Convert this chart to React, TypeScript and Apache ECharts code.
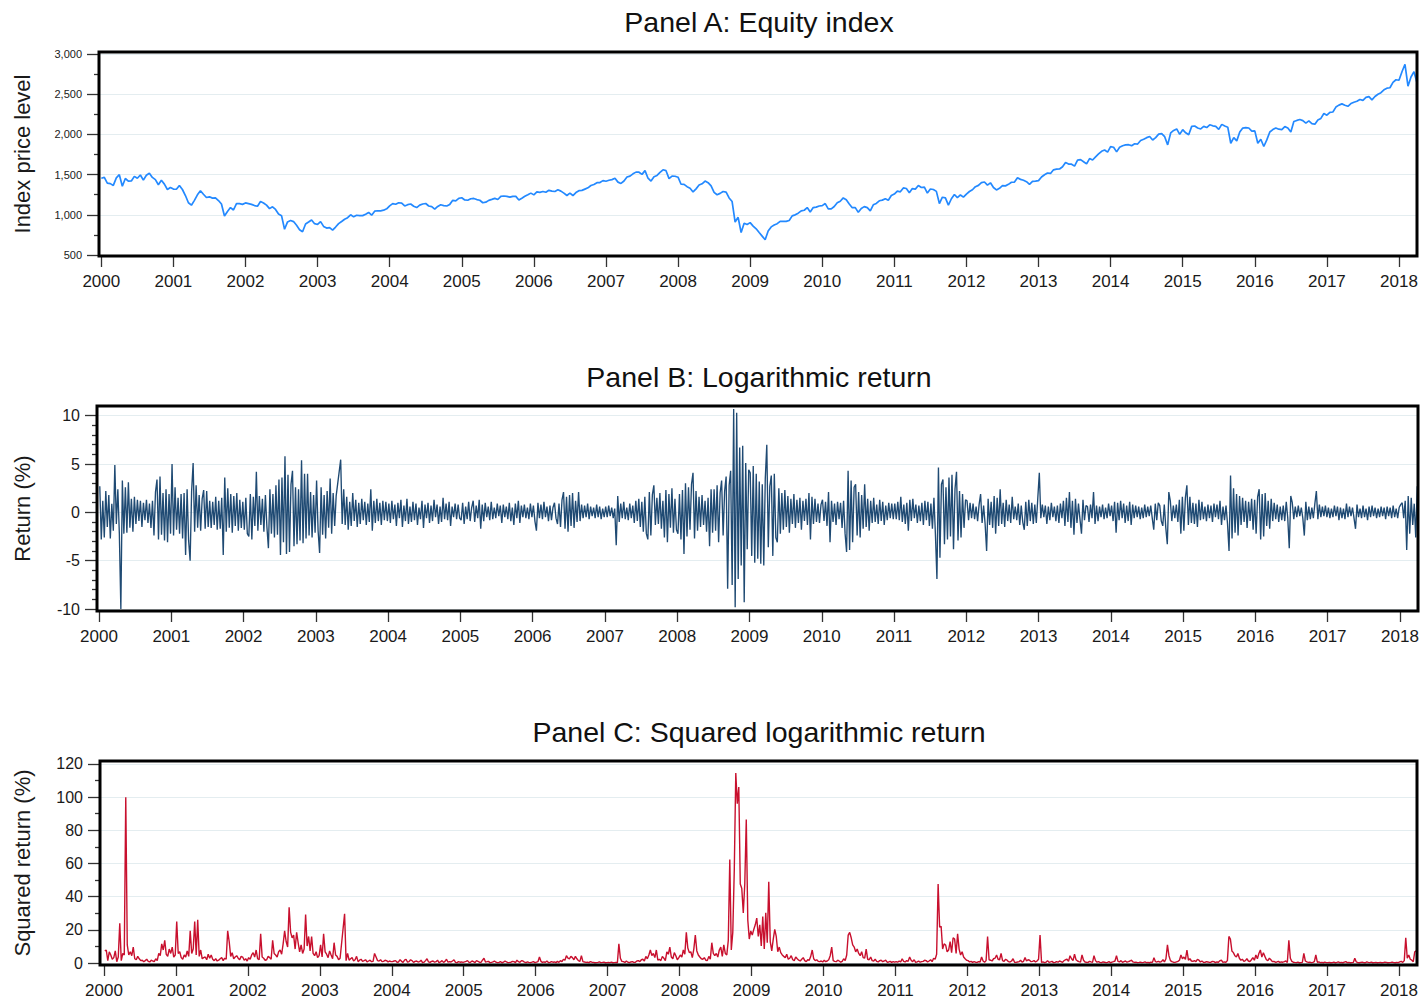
import React, { useEffect, useRef } from "react";
import * as echarts from "echarts";

// Year ticks shared by the three panels
const yearTicks = [2000, 2001, 2002, 2003, 2004, 2005, 2006, 2007, 2008, 2009, 2010, 2011, 2012, 2013, 2014, 2015, 2016, 2017, 2018];

// Y-axis tick values
const priceTicks = [500, 1000, 1500, 2000, 2500, 3000];
const priceMinorTicks = [750, 1250, 1750, 2250, 2750];
const returnTicks = [-10, -5, 0, 5, 10];
const returnMinorTicks = [-9, -8, -7, -6, -4, -3, -2, -1, 1, 2, 3, 4, 6, 7, 8, 9];
const squaredTicks = [0, 20, 40, 60, 80, 100, 120];
const squaredMinorTicks = [10, 30, 50, 70, 90, 110];

// Equity index level: opening value, then mid-month and month-end levels per year
const indexStart = 1455;
const index2000 = [1465, 1394, 1388, 1366, 1460, 1499, 1356, 1452, 1420, 1421, 1478, 1455, 1495, 1431, 1492, 1518, 1465, 1437, 1374, 1429, 1382, 1315, 1340, 1320];
const index2001 = [1318, 1366, 1315, 1240, 1150, 1120, 1180, 1249, 1300, 1256, 1215, 1224, 1208, 1211, 1178, 1134, 985, 1041, 1090, 1060, 1140, 1139, 1130, 1148];
const index2002 = [1140, 1130, 1115, 1107, 1165, 1147, 1120, 1077, 1100, 1067, 1010, 990, 820, 912, 930, 916, 870, 815, 790, 886, 910, 936, 890, 880];
const index2003 = [915, 856, 835, 841, 810, 848, 890, 917, 945, 964, 1000, 975, 995, 990, 990, 1008, 1030, 996, 1045, 1051, 1050, 1058, 1075, 1112];
const index2004 = [1140, 1131, 1150, 1145, 1110, 1126, 1135, 1107, 1090, 1121, 1135, 1141, 1110, 1102, 1070, 1104, 1125, 1115, 1110, 1130, 1180, 1174, 1205, 1212];
const index2005 = [1185, 1181, 1200, 1204, 1190, 1181, 1150, 1157, 1180, 1192, 1205, 1191, 1230, 1234, 1230, 1220, 1230, 1229, 1185, 1207, 1230, 1249, 1270, 1248];
const index2006 = [1285, 1280, 1290, 1281, 1305, 1295, 1290, 1311, 1295, 1270, 1240, 1270, 1240, 1277, 1300, 1304, 1320, 1336, 1365, 1378, 1400, 1401, 1425, 1418];
const index2007 = [1430, 1438, 1455, 1407, 1390, 1421, 1470, 1482, 1510, 1531, 1530, 1503, 1550, 1455, 1420, 1474, 1490, 1527, 1560, 1549, 1450, 1481, 1480, 1468];
const index2008 = [1380, 1379, 1350, 1331, 1285, 1323, 1370, 1386, 1420, 1400, 1360, 1280, 1250, 1267, 1290, 1283, 1210, 1165, 910, 969, 780, 896, 880, 903];
const index2009 = [860, 826, 780, 735, 690, 798, 850, 873, 890, 919, 920, 919, 930, 987, 1000, 1021, 1050, 1057, 1090, 1036, 1090, 1096, 1110, 1115];
const index2010 = [1140, 1074, 1075, 1104, 1150, 1169, 1210, 1187, 1135, 1089, 1090, 1031, 1080, 1102, 1090, 1049, 1125, 1141, 1175, 1183, 1200, 1181, 1240, 1258];
const index2011 = [1295, 1286, 1335, 1327, 1275, 1326, 1320, 1364, 1340, 1345, 1270, 1321, 1315, 1292, 1140, 1219, 1210, 1120, 1200, 1253, 1215, 1247, 1220, 1258];
const index2012 = [1290, 1312, 1350, 1366, 1400, 1408, 1370, 1398, 1340, 1310, 1330, 1362, 1360, 1379, 1405, 1407, 1460, 1441, 1430, 1412, 1380, 1416, 1420, 1426];
const index2013 = [1470, 1498, 1520, 1515, 1560, 1569, 1570, 1598, 1650, 1631, 1630, 1606, 1680, 1686, 1660, 1633, 1700, 1682, 1720, 1757, 1790, 1806, 1780, 1848];
const index2014 = [1840, 1783, 1840, 1859, 1870, 1872, 1860, 1884, 1880, 1924, 1940, 1960, 1975, 1931, 1960, 2003, 2010, 1972, 1870, 2018, 2050, 2068, 2000, 2059];
const index2015 = [2020, 1995, 2100, 2105, 2080, 2068, 2100, 2086, 2120, 2107, 2100, 2063, 2125, 2104, 2090, 1890, 1960, 1920, 2030, 2079, 2085, 2080, 2040, 2044];
const index2016 = [1890, 1940, 1850, 1932, 2030, 2060, 2080, 2065, 2060, 2097, 2080, 2030, 2160, 2174, 2185, 2171, 2140, 2168, 2135, 2126, 2180, 2199, 2260, 2239];
const index2017 = [2275, 2279, 2340, 2364, 2380, 2363, 2350, 2384, 2400, 2412, 2435, 2423, 2460, 2470, 2430, 2472, 2500, 2519, 2555, 2575, 2580, 2648, 2680, 2674];
const index2018 = [2780, 2872, 2600, 2714, 2780, 2641];

// Logarithmic return (%), roughly weekly readings per year; null = missing observation
const returns2000 = [
  2.7, -2.8, 1.2, -2.6, 2.2, -1.5, 1.8, -2.7,
  0.9, -1.9, 4.9, -1.2, 2.4, -2.2, -10.0, 3.3,
  -2.2, 2.6, -2.1, 3.1, -1.6, 1.4, -2.0, 1.6,
  -1.2, 1.3, -0.9, 1.2, -1.5, 1.0, -0.8, 1.3,
  -1.1, 0.9, -1.6, 1.2, -2.4, 2.1, 3.4, -2.8,
  3.7, -2.3, 2.0, -2.9, 2.4, -3.1, 1.9, -2.2,
];
const returns2001 = [
  5.0, -2.4, 2.6, -1.8, 1.5, -2.2, 1.9, -2.7,
  2.0, -4.4, 2.4, -2.9, -5.0, 2.2, 5.1, -2.0,
  2.8, -1.6, 1.8, -1.9, 1.4, 2.3, -1.7, 2.2,
  -1.5, 1.2, -1.6, 1.1, -1.3, 1.6, -1.8, 1.2,
  -1.7, 1.5, -4.4, 3.6, -2.0, 2.5, -1.6, 1.9,
  -2.1, 1.7, -1.4, 2.0, -1.9, 1.3, -1.6, 1.1,
];
const returns2002 = [
  -1.8, 1.5, -2.2, -2.5, 1.9, -2.8, 1.6, -1.4,
  4.2, -1.9, 1.7, -1.3, 1.4, -2.0, 1.8, -1.5,
  -3.7, 2.4, -2.2, 1.9, -2.6, 2.8, -2.3, 3.4,
  -4.4, 3.6, -3.1, 5.8, -4.3, 3.9, -4.1, 2.9,
  4.3, -3.5, 2.6, -3.3, 2.4, -2.9, 5.4, -3.2,
  4.0, -2.7, 4.0, -2.4, 2.1, -2.6, 1.8, -2.1,
];
const returns2003 = [
  3.3, -1.9, -4.2, 2.6, -2.3, 1.8, -2.7, 2.2,
  -1.6, 3.5, -2.2, 2.0, -1.4, 1.7, null, null,
  5.45, -1.2, 2.4, -1.3, 1.6, -1.8, 1.1, -1.4,
  2.0, -0.9, 1.3, -1.5, 1.0, -1.2, 1.4, -0.8,
  1.1, -1.3, 0.9, -1.0, 2.4, -1.9, 1.2, -1.1,
  1.4, -0.9, 1.0, -1.3, 1.2, -0.8, 1.1, -0.9,
];
const returns2004 = [
  0.9, -1.1, 1.2, -0.7, 0.8, -1.4, 1.0, -0.6,
  1.3, -1.5, 0.7, -0.9, 1.4, -1.2, 0.6, -1.0,
  1.1, -0.8, 0.9, -1.3, 0.5, -0.7, 1.2, -1.6,
  0.8, -0.6, 1.0, -1.1, 0.7, -0.9, 1.3, -0.5,
  0.8, -1.2, 0.6, -1.0, 1.5, -0.7, 0.9, -0.8,
  1.1, -1.4, 0.6, -0.5, 0.9, -0.7, 0.8, -0.6,
];
const returns2005 = [
  -0.8, 1.0, -1.2, 0.6, -0.7, 1.1, -0.9, 0.5,
  1.2, -1.0, 0.7, -0.6, 1.3, -1.7, 0.8, -0.9,
  1.0, -0.5, 0.6, -0.8, 1.1, -0.7, 0.5, -0.6,
  0.9, -0.4, 0.7, -1.1, 0.8, -0.5, 0.6, -0.7,
  1.0, -0.9, 0.5, -1.3, 0.9, -0.6, 1.2, -1.1,
  0.7, -0.5, 0.8, -0.6, 0.5, -0.7, 0.9, -0.5,
];
const returns2006 = [
  0.7, -0.9, -1.9, 1.0, -0.6, 0.8, -0.7, 1.1,
  -0.5, 0.6, -0.9, 0.7, -0.8, 0.5, 1.0, -0.6,
  -1.2, 0.9, -1.5, 1.3, 2.1, -1.7, 1.6, -2.0,
  1.8, -1.4, 2.0, -1.6, 1.2, -1.0, 2.1, -0.9,
  0.8, -0.6, 0.7, -0.5, 0.9, -0.7, 0.6, -0.4,
  0.5, -0.6, 0.8, -0.5, 0.6, -0.7, 0.4, -0.5,
];
const returns2007 = [
  0.6, -0.5, 0.7, -0.4, 0.5, -0.6, 0.4, -3.4,
  1.7, -1.0, 0.9, -0.6, 1.1, -0.7, 0.5, -0.8,
  0.9, -0.6, 0.7, -1.1, 1.2, -0.9, 1.4, -1.5,
  1.1, -2.0, 1.6, -2.2, -2.8, 2.1, -2.4, 1.8,
  2.8, -1.3, 1.5, -1.2, 2.0, -1.7, 1.2, -2.6,
  2.3, -3.1, 1.9, -1.6, 2.5, -2.1, 1.4, -1.8,
];
const returns2008 = [
  -2.2, 1.9, -2.8, 2.3, -4.3, 3.0, -2.5, 2.6,
  -1.8, 2.9, 4.1, -2.7, 2.2, -1.9, 1.6, -1.5,
  1.8, -1.3, 1.2, -2.0, 1.5, -3.5, 2.4, -2.1,
  2.4, -1.9, 2.8, -3.1, 2.0, 3.3, -2.4, 2.2,
  3.7, -7.9, 2.8, 4.3, -7.5, 10.7, -9.8, 10.3,
  -6.9, 6.7, -5.5, 6.9, -9.3, 5.1, -3.8, 4.4,
];
const returns2009 = [
  4.1, -4.5, 4.8, -5.2, 4.0, -4.8, 3.2, -5.3,
  2.9, -5.5, 3.5, 7.0, -3.6, 2.7, 3.8, -4.5,
  4.0, -2.6, -3.1, 2.5, -2.2, 2.0, -1.8, 2.3,
  -1.5, 1.7, -2.1, 1.4, -1.2, 1.9, -1.6, 1.3,
  -1.1, 1.5, -1.8, 1.2, -0.9, 1.4, -1.3, 2.0,
  -2.8, 1.6, -1.2, 1.4, -1.0, 0.9, -1.1, 0.8,
];
const returns2010 = [
  1.3, -0.9, 1.1, -1.4, 2.1, -3.1, 1.2, -1.0,
  0.9, -1.3, 1.1, -0.7, 1.0, -1.6, 1.2, -2.2,
  -4.1, 4.3, -3.9, 3.3, -3.1, 2.6, 2.9, -2.4,
  2.1, -2.6, 1.8, -1.7, 2.9, -1.5, 1.4, -1.9,
  1.2, -1.1, 1.5, -1.0, 0.8, -1.2, 1.3, -0.9,
  1.1, -1.3, 0.7, -0.8, 1.0, -0.6, 0.9, -0.7,
];
const returns2011 = [
  0.9, -0.7, 1.1, -0.8, 1.6, -1.0, 0.8, -1.2,
  1.0, -1.9, 1.3, -0.9, 1.4, -0.6, 0.8, -1.1,
  0.7, -0.9, 1.0, -1.3, 1.2, -0.8, 1.1, -1.4,
  0.9, -1.7, 1.5, -2.3, -6.9, 4.65, -4.7, 2.9,
  3.4, -3.3, 2.6, -2.8, 3.6, -2.5, 3.9, -3.8,
  2.4, 4.2, -2.9, 2.2, -2.6, 1.9, -1.6, 1.3,
];
const returns2012 = [
  1.2, -0.8, 1.0, -0.6, 0.9, -0.7, 0.6, -0.9,
  0.8, 1.9, -1.1, 0.7, -1.2, -4.0, 1.4, -1.3,
  1.1, -1.6, 1.7, -2.2, 1.5, -1.4, 2.4, -1.2,
  1.0, -1.5, 1.3, -0.9, 0.8, -1.1, 1.6, -0.7,
  0.6, -0.8, 0.9, -1.3, 0.7, -1.0, -1.8, 1.1,
  -1.4, 1.3, -0.9, 1.0, -1.2, 0.8, -1.1, 1.5,
];
const returns2013 = [
  4.1, -0.6, 0.8, -0.5, 0.7, -1.2, 0.6, -0.8,
  1.0, -0.5, 0.6, -0.9, 0.7, -1.1, 0.9, -0.6,
  1.2, -1.4, 1.5, -1.0, 2.1, -1.6, 1.2, -2.3,
  1.4, -1.1, 0.9, -0.7, -2.2, 1.3, -0.8, 0.7,
  0.6, -1.0, 0.8, -0.6, 2.1, -1.2, 0.7, -0.9,
  0.6, -0.5, 0.8, -0.7, 0.5, -0.6, 0.9, -0.4,
];
const returns2014 = [
  0.7, -0.9, 1.1, -2.1, 1.0, -0.8, 1.2, -0.6,
  0.9, -1.1, 0.7, -0.9, 1.1, -1.3, 0.8, -0.6,
  0.7, -0.5, 0.6, -0.7, 0.5, -0.6, 0.8, -0.5,
  0.6, -0.4, 0.7, -0.6, -1.8, 0.9, -0.8, 1.0,
  0.7, -0.9, -1.4, 0.8, -1.6, -3.3, 2.1, 1.2,
  -0.9, 0.7, -0.6, 0.8, -1.0, 1.3, -2.2, 1.6,
];
const returns2015 = [
  -1.9, 1.5, 2.8, -1.3, 1.6, -1.1, 1.0, -1.2,
  0.9, -1.5, 1.3, -0.8, 1.1, -0.7, 0.6, -0.9,
  0.8, -0.6, 0.7, -1.0, 0.9, -0.5, 0.8, -0.7,
  1.2, -1.3, 0.6, -0.8, 0.7, -1.2, -4.0, 3.8,
  -2.7, 2.5, -2.1, 1.9, -2.4, 1.7, -1.3, 1.5,
  -1.0, 1.2, -1.6, 1.1, -0.9, 1.4, -1.8, 1.3,
];
const returns2016 = [
  -2.2, 1.6, 2.4, -2.8, 1.9, -2.5, 2.0, -1.4,
  1.2, -1.7, 1.4, -0.9, 1.0, -0.7, 0.8, -1.0,
  0.6, -0.8, 0.7, -0.9, 1.1, -0.6, -3.7, 1.7,
  1.0, -0.7, 0.6, -0.5, 0.7, -0.4, 0.5, -0.6,
  -2.4, 1.1, -0.8, 0.6, -0.7, 0.5, -0.6, 0.9,
  2.2, -0.7, 0.8, -0.5, 0.6, -0.4, 0.7, -0.5,
];
const returns2017 = [
  0.5, -0.6, 0.4, -0.5, 0.7, -0.4, 0.6, -0.8,
  0.5, -0.6, 0.4, -0.7, 0.9, -0.5, 0.6, -0.4,
  0.5, -0.6, -1.7, 0.8, -0.5, 0.4, -0.6, 0.7,
  -0.5, 0.4, -0.8, 0.6, -0.5, 0.7, -0.4, 0.5,
  -0.6, 0.4, -0.5, 0.6, -0.4, 0.5, -0.7, 0.6,
  -0.4, 0.5, -0.6, 0.7, -0.5, 0.4, -0.6, 0.5,
];
const returns2018 = [0.8, 1.0, -0.6, 1.2, -3.9, 1.7, -2.2, 1.5, -1.3, 0.9, -2.6, 2.7];

const indexByYear = [
  index2000, index2001, index2002, index2003, index2004, index2005, index2006,
  index2007, index2008, index2009, index2010, index2011, index2012, index2013,
  index2014, index2015, index2016, index2017, index2018,
];
const returnsByYear: (number | null)[][] = [
  returns2000, returns2001, returns2002, returns2003, returns2004, returns2005, returns2006,
  returns2007, returns2008, returns2009, returns2010, returns2011, returns2012, returns2013,
  returns2014, returns2015, returns2016, returns2017, returns2018,
];

const FIRST_YEAR = 2000;
const LAST_DATE = 2018.25;
const INDEX_STEPS_PER_YEAR = 24;
const RETURN_STEPS_PER_YEAR = 48;

// Decimal-year time stamps for each reading
function indexPoints(): [number, number][] {
  const pts: [number, number][] = [[FIRST_YEAR, indexStart]];
  indexByYear.forEach((vals, i) => {
    vals.forEach((v, k) => pts.push([FIRST_YEAR + i + (k + 1) / INDEX_STEPS_PER_YEAR, v]));
  });
  return pts;
}

function returnPoints(): [number, number | null][] {
  const pts: [number, number | null][] = [];
  returnsByYear.forEach((vals, i) => {
    vals.forEach((v, k) => pts.push([FIRST_YEAR + i + (k + 0.5) / RETURN_STEPS_PER_YEAR, v]));
  });
  return pts;
}

const FONT = "'Liberation Sans', Arial, Helvetica, sans-serif";
const TEXT = "#1a1a1a";
const TICK = { color: "#333", width: 1.3 };
const GRIDLINE = "#e4edf0";

function withThousands(v: number): string {
  return String(Math.round(v)).replace(/\B(?=(\d{3})+(?!\d))/g, ",");
}

type PanelSpec = {
  grid: { left: number; right: number; top: number; height: number };
  xMin: number;
  yMin: number;
  yMax: number;
  major: number[];
  minor: number[];
  labelSize: number;
  name: string;
  nameGap: number;
  format: (v: number) => string;
};

function buildOption() {
  const returns = returnPoints();
  const squared = returns.map(([x, r]) => [x, r === null ? null : +(r * r).toFixed(4)]);

  const panels: PanelSpec[] = [
    {
      grid: { left: 99, right: 5, top: 52, height: 204 },
      xMin: 1999.968, yMin: 488, yMax: 3025,
      major: priceTicks, minor: priceMinorTicks, labelSize: 11,
      name: "Index price level", nameGap: 66, format: withThousands,
    },
    {
      grid: { left: 97, right: 4, top: 406, height: 205 },
      xMin: 1999.972, yMin: -10.2, yMax: 11,
      major: returnTicks, minor: returnMinorTicks, labelSize: 16,
      name: "Return (%)", nameGap: 64, format: (v) => String(v),
    },
    {
      grid: { left: 100, right: 5, top: 761, height: 205 },
      xMin: 1999.944, yMin: -1.2, yMax: 121.8,
      major: squaredTicks, minor: squaredMinorTicks, labelSize: 16,
      name: "Squared return (%)", nameGap: 67, format: (v) => String(v),
    },
  ];

  const grids = panels.map((p) => ({
    ...p.grid,
    show: true,
    borderColor: "#000",
    borderWidth: 3,
    backgroundColor: "transparent",
    containLabel: false,
    z: 3,
  }));

  const xAxes = panels.map((p, i) => ({
    type: "value",
    gridIndex: i,
    min: p.xMin,
    max: LAST_DATE,
    axisLine: { show: false, onZero: false },
    axisTick: { show: true, customValues: yearTicks, length: 11, lineStyle: TICK },
    axisLabel: {
      show: true,
      customValues: yearTicks,
      margin: 17,
      fontSize: 17,
      fontFamily: FONT,
      color: TEXT,
      formatter: (v: number) => String(Math.round(v)),
    },
    splitLine: { show: false },
  }));

  const yAxes: any[] = [];
  panels.forEach((p, i) => {
    yAxes.push({
      type: "value",
      gridIndex: i,
      position: "left",
      min: p.yMin,
      max: p.yMax,
      name: p.name,
      nameLocation: "middle",
      nameGap: p.nameGap,
      nameTextStyle: { fontSize: 22, fontFamily: FONT, color: TEXT },
      axisLine: { show: false, onZero: false },
      axisTick: { show: true, customValues: p.major, length: 12, lineStyle: TICK },
      axisLabel: {
        show: true,
        customValues: p.major,
        margin: 17,
        fontSize: p.labelSize,
        fontFamily: FONT,
        color: TEXT,
        formatter: p.format,
      },
      splitLine: { show: true, lineStyle: { color: GRIDLINE, width: 1 } },
    });
    yAxes.push({
      type: "value",
      gridIndex: i,
      position: "left",
      min: p.yMin,
      max: p.yMax,
      axisLine: { show: false, onZero: false },
      axisTick: { show: true, customValues: p.minor, length: 5, lineStyle: TICK },
      axisLabel: { show: false },
      splitLine: { show: false },
    });
  });

  const titleStyle = (text: string, y: number) => ({
    type: "text",
    x: 759,
    y,
    style: {
      text,
      fontSize: 28.5,
      fontFamily: FONT,
      fill: "#111",
      textAlign: "center",
      textVerticalAlign: "middle",
      align: "center",
      verticalAlign: "middle",
    },
  });

  return {
    animation: false,
    backgroundColor: "#fff",
    grid: grids,
    xAxis: xAxes,
    yAxis: yAxes,
    graphic: [
      titleStyle("Panel A: Equity index", 22),
      titleStyle("Panel B: Logarithmic return", 377),
      titleStyle("Panel C: Squared logarithmic return", 732),
    ],
    series: [
      {
        type: "line",
        name: "Index price level",
        xAxisIndex: 0,
        yAxisIndex: 0,
        data: indexPoints(),
        showSymbol: false,
        symbol: "none",
        silent: true,
        lineStyle: { color: "#2389ff", width: 1.7 },
        z: 2,
      },
      {
        type: "line",
        name: "Return (%)",
        xAxisIndex: 1,
        yAxisIndex: 2,
        data: returns,
        connectNulls: true,
        showSymbol: false,
        symbol: "none",
        silent: true,
        lineStyle: { color: "#1f4a73", width: 1.35 },
        z: 2,
      },
      {
        type: "line",
        name: "Squared return (%)",
        xAxisIndex: 2,
        yAxisIndex: 4,
        data: squared,
        connectNulls: true,
        showSymbol: false,
        symbol: "none",
        silent: true,
        lineStyle: { color: "#c8102e", width: 1.4 },
        z: 2,
      },
    ],
  };
}

export default function App() {
  const ref = useRef<HTMLDivElement>(null);

  useEffect(() => {
    if (!ref.current) return;
    const chart = echarts.init(ref.current, undefined, { renderer: "svg" });
    chart.setOption(buildOption() as any);
    return () => {
      chart.dispose();
    };
  }, []);

  return (
    <div
      ref={ref}
      style={{ position: "absolute", left: 0, top: 0, width: 1422, height: 999, background: "#fff" }}
    />
  );
}
